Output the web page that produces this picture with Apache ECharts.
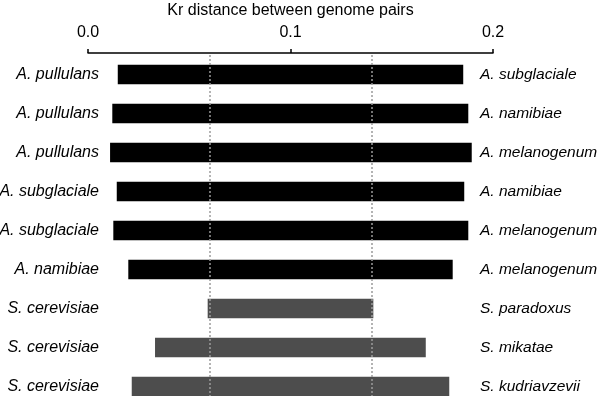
<!DOCTYPE html>
<html>
<head>
<meta charset="utf-8">
<script src="https://cdn.jsdelivr.net/npm/echarts@6/dist/echarts.min.js"></script>
<style>html,body{margin:0;padding:0;background:#fff}#c{width:600px;height:396px}</style>
</head>
<body>
<div id="c"></div>
<script>
var leftLabels = ['A. pullulans','A. pullulans','A. pullulans','A. subglaciale','A. subglaciale','A. namibiae','S. cerevisiae','S. cerevisiae','S. cerevisiae'];
var rightLabels = ['A. subglaciale','A. namibiae','A. melanogenum','A. namibiae','A. melanogenum','A. melanogenum','S. paradoxus','S. mikatae','S. kudriavzevii'];
var startValues = [0.0147,0.0120,0.0109,0.0142,0.0125,0.0199,0.0591,0.0331,0.0216];
var endValues = [0.1853,0.1878,0.1895,0.1858,0.1878,0.1801,0.1409,0.1668,0.1784];
var barColors = ['#000000','#000000','#000000','#000000','#000000','#000000','#4d4d4d','#4d4d4d','#4d4d4d'];
var referenceLines = [0.0591, 0.1409];
var tickLabels = ['0.0','0.1','0.2'];

var idx = leftLabels.map(function(_, i){ return String(i); });
var font = '"Liberation Sans", Arial, sans-serif';

var chart = echarts.init(document.getElementById('c'), null, {renderer:'canvas'});
chart.setOption({
  animation: false,
  grid: {left: 88, width: 405, top: 55, height: 351, containLabel: false, outerBoundsMode: 'none'},
  xAxis: {
    type: 'value', position: 'top', min: 0, max: 0.2, interval: 0.1, offset: 2,
    name: 'Kr distance between genome pairs', nameLocation: 'middle', nameGap: 34,
    nameTextStyle: {color: '#000', fontSize: 16, fontFamily: font},
    axisLine: {show: true, lineStyle: {color: '#000', width: 1.5}},
    axisTick: {show: true, length: 4, lineStyle: {color: '#000', width: 1.5}},
    axisLabel: {color: '#000', fontSize: 16, fontFamily: font, margin: 12,
      formatter: function(v){ var k = Math.round(v/0.1); return tickLabels[k] || ''; }},
    splitLine: {show: false}
  },
  yAxis: [
    {type: 'category', data: idx, inverse: true, position: 'left',
     axisLine: {show: false}, axisTick: {show: false}, splitLine: {show: false},
     axisLabel: {color: '#000', fontSize: 16, fontStyle: 'italic', fontFamily: font, margin: -11,
       formatter: function(v){ return leftLabels[+v]; }}},
    {type: 'category', data: idx, inverse: true, position: 'right',
     axisLine: {show: false}, axisTick: {show: false}, splitLine: {show: false},
     axisLabel: {color: '#000', fontSize: 15.5, fontStyle: 'italic', fontFamily: font, margin: -13,
       formatter: function(v){ return rightLabels[+v]; }}}
  ],
  series: [
    {type: 'bar', stack: 'r', yAxisIndex: 0, barWidth: '50%', silent: true,
     itemStyle: {color: 'rgba(0,0,0,0)'}, data: startValues,
     markLine: {silent: true, symbol: ['none','none'], label: {show: false},
       lineStyle: {color: '#9a9a9a', type: [2, 2], width: 1.5},
       data: referenceLines.map(function(v){ return {xAxis: v}; })}},
    {type: 'bar', stack: 'r', yAxisIndex: 0, barWidth: '50%',
     data: endValues.map(function(e, i){ return {value: e - startValues[i], itemStyle: {color: barColors[i]}}; })}
  ]
});
</script>
</body>
</html>
